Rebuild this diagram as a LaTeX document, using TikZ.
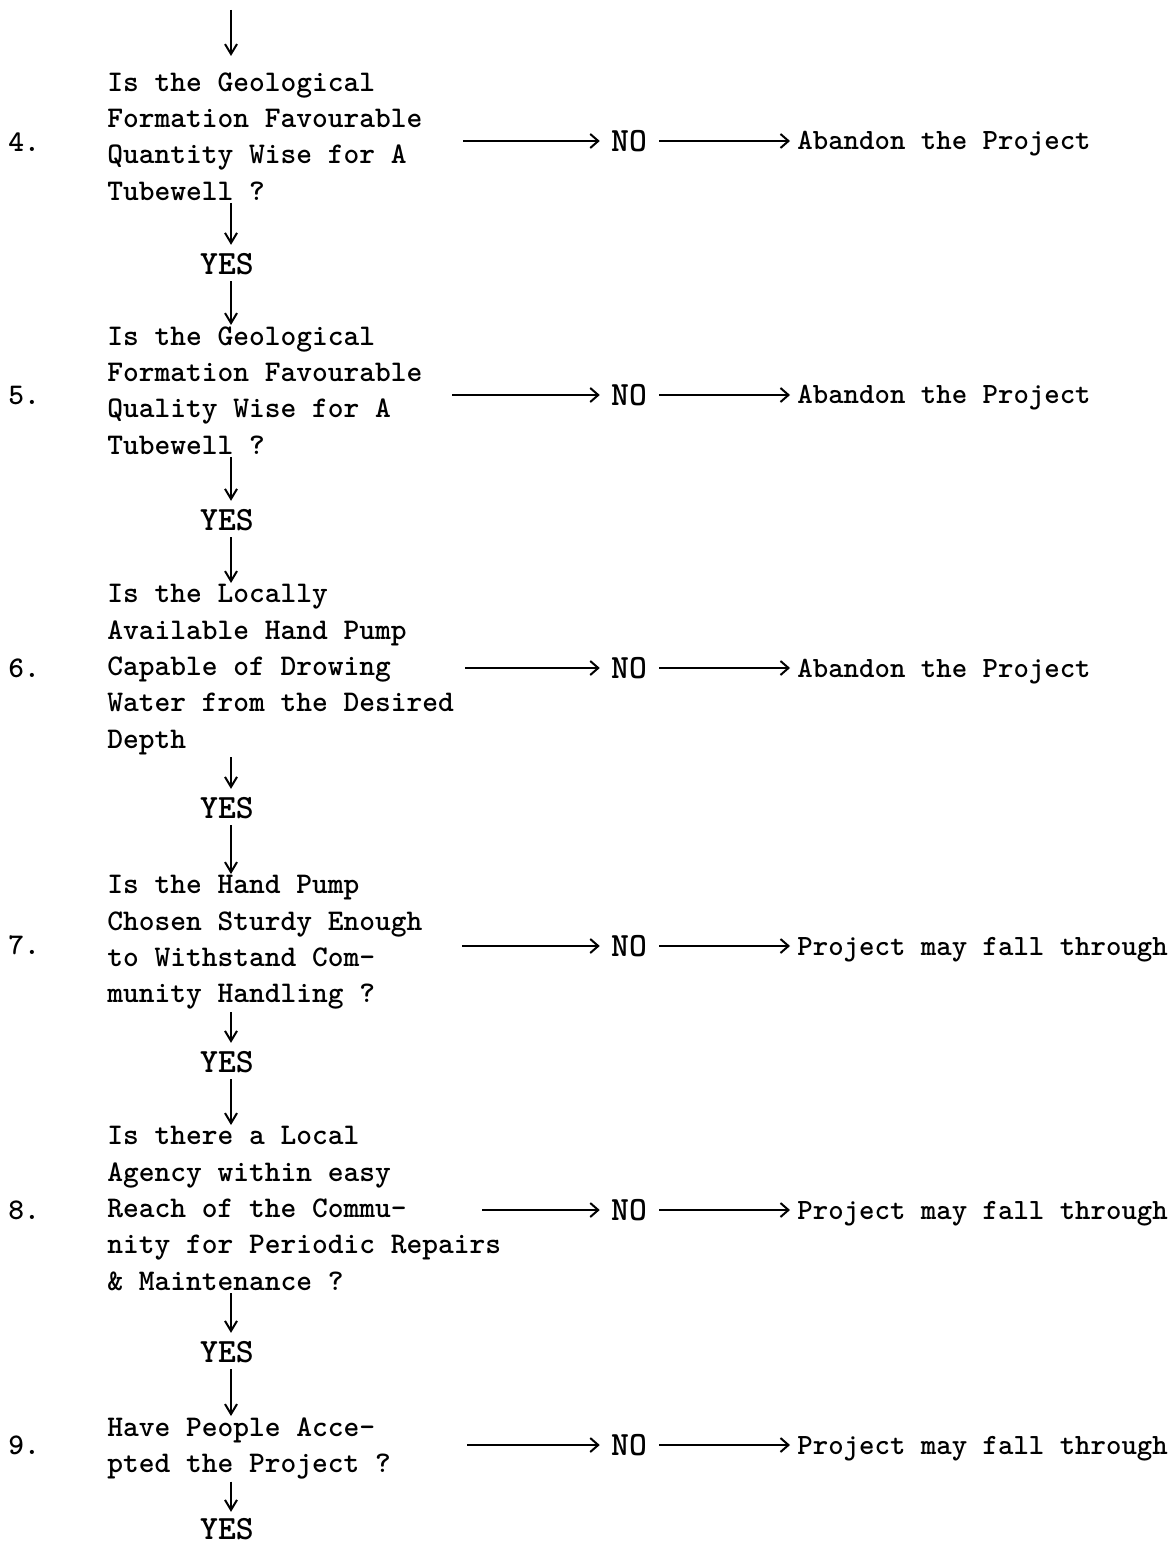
\documentclass[tikz,border=0pt]{standalone}
\usetikzlibrary{arrows.meta}
\newcommand\qfont{\ttfamily\bfseries\fontsize{15}{18.2}\selectfont}
\newcommand\afont{\ttfamily\bfseries\fontsize{17}{18}\selectfont}
\newcommand\rfont{\ttfamily\bfseries\fontsize{14.7}{18}\selectfont}
\begin{document}
\begin{tikzpicture}[x=0.5pt,y=-0.5pt,
	ques/.style={anchor=north west,inner sep=0pt,align=left,font=\qfont},
	num/.style={anchor=west,inner sep=0pt,font=\qfont},
	ans/.style={inner sep=0pt,font=\afont},
	res/.style={anchor=base west,inner sep=0pt,font=\rfont},
	flow/.style={line width=1pt,-{Straight Barb[length=4pt,width=7pt]}},
	down/.style={line width=1pt,-{Straight Barb[length=5pt,width=6pt]}}]
	%%%%% START %%%%%
	\def\xq{107}
	\def\xn{8}
	\def\xno{629}
	\def\xres{797}
	\def\xyes{227}
	\useasboundingbox (0,0) rectangle (1173,1545);
	\coordinate (col) at (231,0);
	\coordinate (top) at (231,10);

	% step 4
	\node[ques] (q4) at (\xq,72) {Is the Geological\\Formation Favourable\\Quantity Wise for A\\Tubewell ?};
	\node[num] (n4) at (\xn,142) {4.};
	\coordinate (s4) at (463,141);
	\node[ans] (no4) at (\xno,141) {NO};
	\node[res] (r4) at (\xres,150) {Abandon the Project};
	\node[ans] (y4) at (\xyes,264) {YES};

	% step 5
	\node[ques] (q5) at (\xq,326) {Is the Geological\\Formation Favourable\\Quality Wise for A\\Tubewell ?};
	\node[num] (n5) at (\xn,396) {5.};
	\coordinate (s5) at (452,395);
	\node[ans] (no5) at (\xno,395) {NO};
	\node[res] (r5) at (\xres,404) {Abandon the Project};
	\node[ans] (y5) at (\xyes,520) {YES};

	% step 6
	\node[ques] (q6) at (\xq,584) {Is the Locally\\Available Hand Pump\\Capable of Drowing\\Water from the Desired\\Depth};
	\node[num] (n6) at (\xn,668) {6.};
	\coordinate (s6) at (465,668);
	\node[ans] (no6) at (\xno,668) {NO};
	\node[res] (r6) at (\xres,677) {Abandon the Project};
	\node[ans] (y6) at (\xyes,808) {YES};

	% step 7
	\node[ques] (q7) at (\xq,875) {Is the Hand Pump\\Chosen Sturdy Enough\\to Withstand Com-\\munity Handling ?};
	\node[num] (n7) at (\xn,945) {7.};
	\coordinate (s7) at (462,946);
	\node[ans] (no7) at (\xno,946) {NO};
	\node[res] (r7) at (\xres,955) {Project may fall through};
	\node[ans] (y7) at (\xyes,1062) {YES};

	% step 8
	\node[ques] (q8) at (\xq,1126) {Is there a Local\\Agency within easy\\Reach of the Commu-\\nity for Periodic Repairs\\\& Maintenance ?};
	\node[num] (n8) at (\xn,1210) {8.};
	\coordinate (s8) at (482,1210);
	\node[ans] (no8) at (\xno,1210) {NO};
	\node[res] (r8) at (\xres,1219) {Project may fall through};
	\node[ans] (y8) at (\xyes,1352) {YES};

	% step 9
	\node[ques] (q9) at (\xq,1417) {Have People Acce-\\pted the Project ?};
	\node[num] (n9) at (\xn,1445) {9.};
	\coordinate (s9) at (467,1445);
	\node[ans] (no9) at (\xno,1445) {NO};
	\node[res] (r9) at (\xres,1454) {Project may fall through};
	\node[ans] (y9) at (\xyes,1529) {YES};

	% main line down
	\draw[down,shorten >=8pt] (top) -- (col |- q4.north);
	\draw[down,shorten <=1pt,shorten >=4pt] (col |- q4.south) -- (col |- y4.north);
	\draw[down,shorten <=3pt,shorten >=0.5pt] (col |- y4.south) -- (col |- q5.north);
	\draw[down,shorten <=1pt,shorten >=4pt] (col |- q5.south) -- (col |- y5.north);
	\draw[down,shorten <=3pt,shorten >=0.5pt] (col |- y5.south) -- (col |- q6.north);
	\draw[down,shorten <=1pt,shorten >=4pt] (col |- q6.south) -- (col |- y6.north);
	\draw[down,shorten <=3pt,shorten >=0.5pt] (col |- y6.south) -- (col |- q7.north);
	\draw[down,shorten <=1pt,shorten >=4pt] (col |- q7.south) -- (col |- y7.north);
	\draw[down,shorten <=3pt,shorten >=0.5pt] (col |- y7.south) -- (col |- q8.north);
	\draw[down,shorten <=1pt,shorten >=4pt] (col |- q8.south) -- (col |- y8.north);
	\draw[down,shorten <=3pt,shorten >=0.5pt] (col |- y8.south) -- (col |- q9.north);
	\draw[down,shorten <=1pt,shorten >=3pt] (col |- q9.south) -- (col |- y9.north);

	% NO branches
	\draw[flow,shorten >=5.5pt] (s4) -- (no4.west);
	\draw[flow,shorten <=6pt,shorten >=3.5pt] (no4.east) -- (no4.east -| r4.west);
	\draw[flow,shorten >=5.5pt] (s5) -- (no5.west);
	\draw[flow,shorten <=6pt,shorten >=3.5pt] (no5.east) -- (no5.east -| r5.west);
	\draw[flow,shorten >=5.5pt] (s6) -- (no6.west);
	\draw[flow,shorten <=6pt,shorten >=3.5pt] (no6.east) -- (no6.east -| r6.west);
	\draw[flow,shorten >=5.5pt] (s7) -- (no7.west);
	\draw[flow,shorten <=6pt,shorten >=3.5pt] (no7.east) -- (no7.east -| r7.west);
	\draw[flow,shorten >=5.5pt] (s8) -- (no8.west);
	\draw[flow,shorten <=6pt,shorten >=3.5pt] (no8.east) -- (no8.east -| r8.west);
	\draw[flow,shorten >=5.5pt] (s9) -- (no9.west);
	\draw[flow,shorten <=6pt,shorten >=3.5pt] (no9.east) -- (no9.east -| r9.west);
	%%%%% END %%%%%
\end{tikzpicture}
\end{document}
